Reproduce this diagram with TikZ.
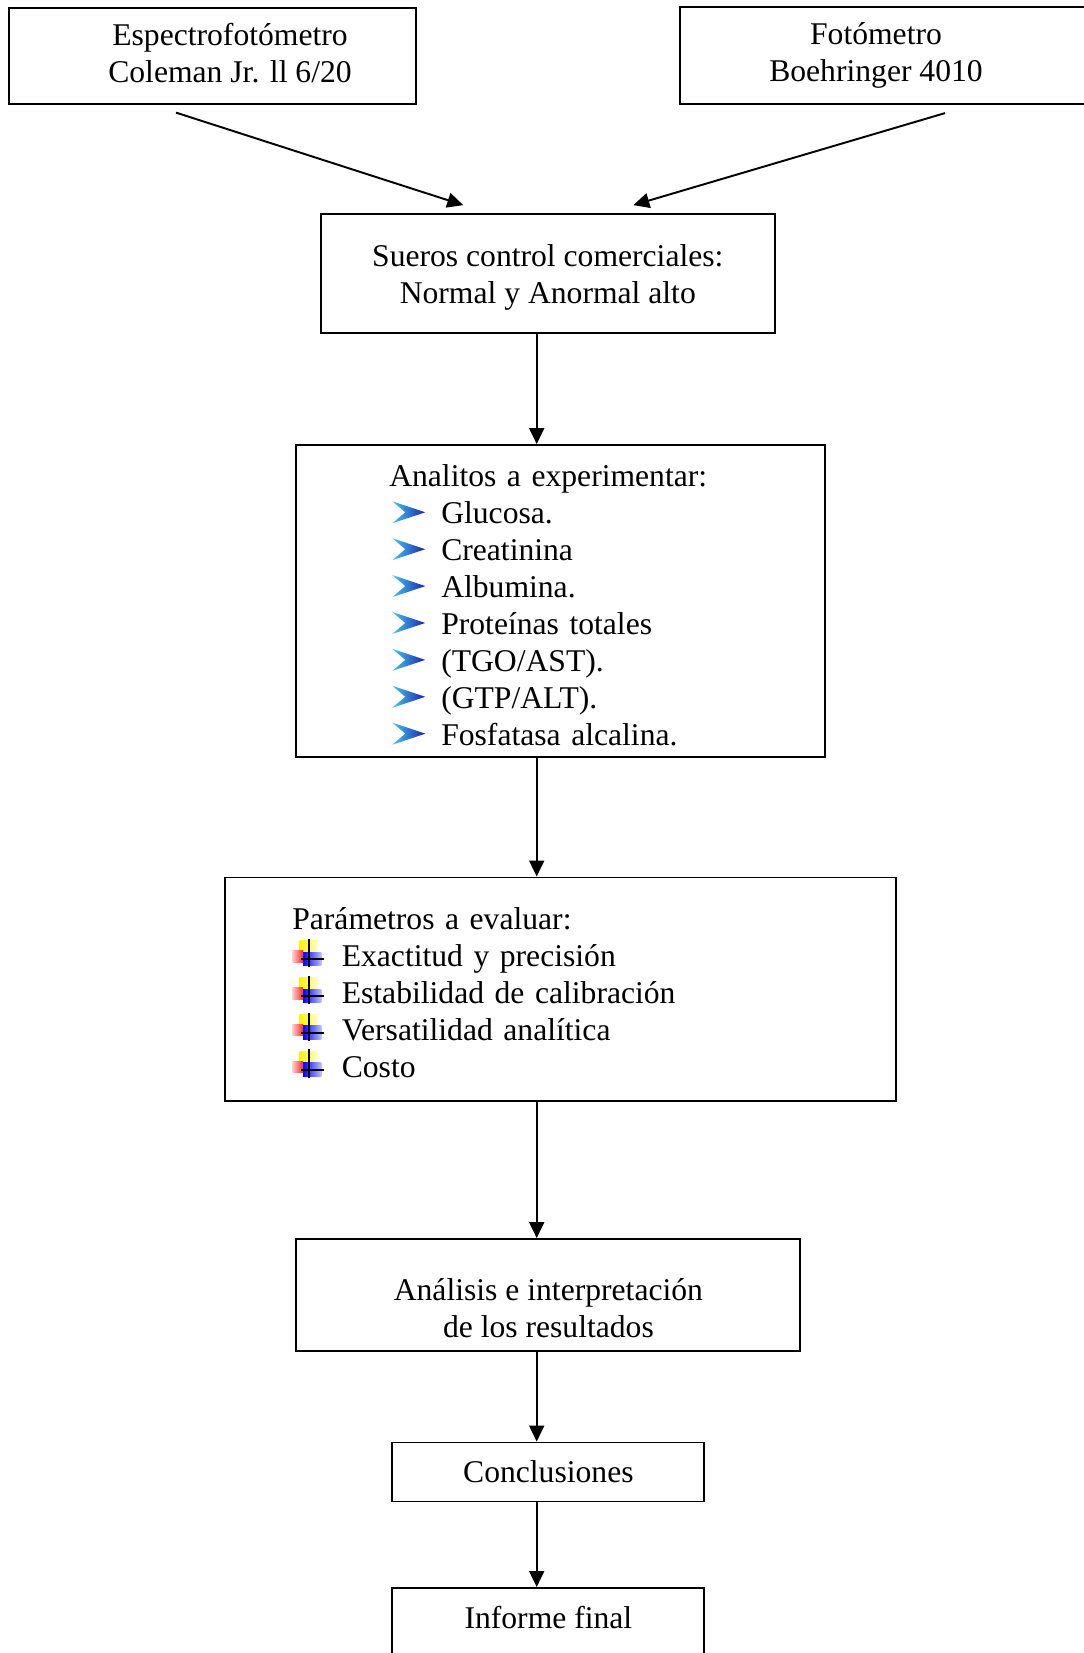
\documentclass[tikz,border=0pt]{standalone}
\usepackage{fontspec}
\setmainfont{Liberation Serif}
\usetikzlibrary{arrows.meta}

\definecolor{celeste}{RGB}{70,200,235}
\definecolor{azulosc}{RGB}{25,35,175}

% list bullets
\newcommand{\iconoflecha}{\tikz[baseline=0pt, x=0.02cm, y=0.02cm] \shade[left color=celeste, right color=azulosc] (0,22.5) -- (33,11.5) -- (0,0.5) -- (13,11.5) -- cycle;}
\newcommand{\iconocruz}{\tikz[baseline=0pt, x=0.02cm, y=0.02cm]{%
  \shade[left color=yellow!90!orange, right color=yellow!15] (7.3,14.3) rectangle (25.7,26);
  \shade[left color=red!20, right color=red!85] (0,4.3) rectangle (10.7,16);
  \shade[left color=blue, right color=blue!25] (10.7,1) rectangle (29,14.3);
  \draw[line width=0.04cm] (16.7,-0.7) -- (16.7,27.7);
  \draw[line width=0.04cm] (9,7) -- (32,7);}}

\begin{document}
\begin{tikzpicture}[x=0.02cm, y=-0.02cm,
  caja/.style={draw, line width=1.1pt, inner sep=0pt, align=center, font={\fontsize{18}{21}\selectfont}},
  lista/.style={caja, align=left},
  flecha/.style={-{Triangle[length=0.32cm, width=0.3cm]}, line width=1.1pt}
]
\useasboundingbox (0,0) rectangle (1083,1653);
\fill[white] (0,0) rectangle (1083,1653);

% Nodes
\node[caja, minimum width=8.16cm, minimum height=1.91cm] (espectro) at (212.5,56.2) {\hspace*{0.7cm}Espectrofotómetro\\ \hspace*{0.7cm}Coleman Jr. ll 6/20\rule[-0.13cm]{0pt}{0pt}};
\node[caja, minimum width=8.16cm, minimum height=1.93cm] (fotometro) at (884,55.7) {Fotómetro\hspace*{0.32cm}\\ Boehringer 4010\hspace*{0.32cm}};
\node[caja, minimum width=9.09cm, minimum height=2.38cm] (sueros) at (547.8,273.6) {\rule{0pt}{0.61cm}Sueros control comerciales:\\ Normal y Anormal alto};
\node[lista, inner xsep=1.86cm, text width=6.85cm, minimum height=6.24cm] (analitos) at (560.5,601) {\rule{0pt}{0.61cm}Analitos a experimentar:\\
  \hspace*{0.06cm}\iconoflecha\hspace{0.32cm}Glucosa.\\
  \hspace*{0.06cm}\iconoflecha\hspace{0.32cm}Creatinina\\
  \hspace*{0.06cm}\iconoflecha\hspace{0.32cm}Albumina.\\
  \hspace*{0.06cm}\iconoflecha\hspace{0.32cm}Proteínas totales\\
  \hspace*{0.06cm}\iconoflecha\hspace{0.32cm}(TGO/AST).\\
  \hspace*{0.06cm}\iconoflecha\hspace{0.32cm}(GTP/ALT).\\
  \hspace*{0.06cm}\iconoflecha\hspace{0.32cm}Fosfatasa alcalina.};
\node[lista, inner xsep=1.35cm, text width=10.73cm, minimum height=4.47cm] (parametros) at (560.5,989.2) {\rule{0pt}{0.6cm}Parámetros a evaluar:\\
  \iconocruz\hspace{0.33cm}Exactitud y precisión\\
  \iconocruz\hspace{0.33cm}Estabilidad de calibración\\
  \iconocruz\hspace{0.33cm}Versatilidad analítica\\
  \iconocruz\hspace{0.33cm}Costo};
\node[caja, minimum width=10.08cm, minimum height=2.24cm] (analisis) at (548.4,1295) {\rule{0pt}{0.95cm}Análisis e interpretación\\ de los resultados};
\node[caja, minimum width=6.24cm, minimum height=1.18cm] (conclusiones) at (548.4,1472) {Conclusiones};
\node[caja, minimum width=6.24cm, text height=0.82cm, text depth=1.2cm, anchor=north] (informe) at (548.4,1587) {Informe final};

\coordinate (eje) at (536.7,0);

% Arrows
\draw[flecha] ([shift={(-36.5,7.7)}]espectro.south) -- ([shift={(-84.5,-8)}]sueros.north);
\draw[flecha] ([shift={(61,8.2)}]fotometro.south) -- ([shift={(85.5,-8)}]sueros.north);
\draw[flecha] (sueros.south -| eje) -- (analitos.north -| eje);
\draw[flecha] (analitos.south -| eje) -- (parametros.north -| eje);
\draw[flecha] (parametros.south -| eje) -- (analisis.north -| eje);
\draw[flecha] (analisis.south -| eje) -- (conclusiones.north -| eje);
\draw[flecha] (conclusiones.south -| eje) -- (informe.north -| eje);

\end{tikzpicture}
\end{document}
